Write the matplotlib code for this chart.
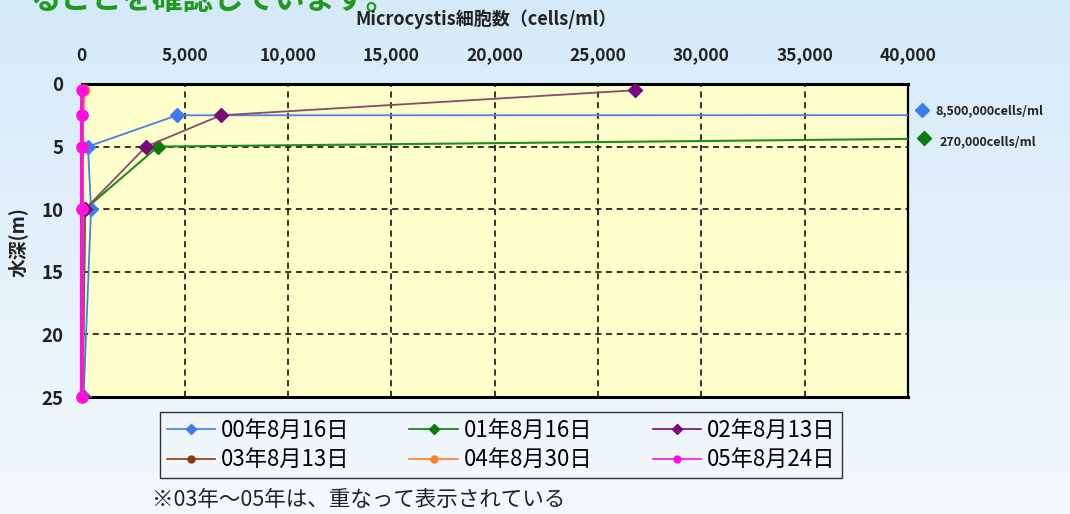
import numpy as np
import matplotlib
matplotlib.use("Agg")
import matplotlib.pyplot as plt
from matplotlib.lines import Line2D

plt.rcParams['font.family'] = ['Noto Sans CJK JP', 'DejaVu Sans']

# Microcystis cell counts (cells/ml) by water depth (m)
series_labels = ["00年8月16日", "01年8月16日", "02年8月13日",
                 "03年8月13日", "04年8月30日", "05年8月24日"]
depth_00 = [0.5, 2.5, 5, 10, 25]
cells_00 = [8500000, 4620, 310, 460, 100]
depth_01 = [0.5, 5, 10, 25]
cells_01 = [270000, 3700, 170, 60]
depth_02 = [0.5, 2.5, 5, 10, 25]
cells_02 = [26800, 6750, 3120, 170, 40]
depth_03 = [0.5, 2.5, 5, 10, 25]
cells_03 = [60, 30, 20, 20, 10]
depth_04 = [0.5, 2.5, 5, 10, 25]
cells_04 = [130, 40, 30, 20, 10]
depth_05 = [0.5, 2.5, 5, 10, 25]
cells_05 = [20, 10, 10, 10, 5]

x_ticks = [0, 5000, 10000, 15000, 20000, 25000, 30000, 35000, 40000]
y_ticks = [0, 5, 10, 15, 20, 25]

fig = plt.figure(figsize=(10.70, 5.14), dpi=100)

# soft blue page background
bg = fig.add_axes([0, 0, 1, 1], zorder=-10)
grad = np.linspace(0, 1, 256).reshape(-1, 1)
top_c = np.array([0.835, 0.918, 0.976])
bot_c = np.array([0.955, 0.975, 0.99])
img = top_c + (bot_c - top_c) * grad
bg.imshow(img[:, None, :].repeat(2, axis=1), aspect='auto', extent=[0, 1, 0, 1])
bg.set_axis_off()

# heading line running off the top edge
fig.text(0.028, 1 - 9 / 514, "ることを確認しています。", color='#1f9a1f', fontsize=22,
         fontweight='bold', va='baseline', ha='left')

ax = fig.add_axes([0.0762, 0.2276, 0.7724, 0.609])
ax.set_facecolor('#FFFFCC')
ax.set_xlim(0, 40000)
ax.set_ylim(25, 0)

styles = [
    (depth_00, cells_00, '#4A7FEA', '#3F7BF0', 'D', 7, 1.3),
    (depth_01, cells_01, '#1E8C1E', '#0A7A0A', 'D', 7, 1.5),
    (depth_02, cells_02, '#8A4A6A', '#7A0A7A', 'D', 7, 1.3),
    (depth_03, cells_03, '#8B3A0E', '#8B3A0E', 'o', 7.5, 2.4),
    (depth_04, cells_04, '#FF7F2A', '#FF7F2A', 'o', 7.5, 2.4),
    (depth_05, cells_05, '#FF10E0', '#FF10E0', 'o', 8, 2.6),
]
for i, (d, c, lc, mc, mk, ms, lw) in enumerate(styles):
    near_axis = mk == 'o'
    ax.plot(c, d, color=lc, lw=lw, marker=mk, ms=ms, mfc=mc, mec=mc,
            zorder=3 + i, clip_on=not near_axis)

ax.set_xticks(x_ticks)
ax.set_xticklabels([f"{v:,}" for v in x_ticks])
ax.set_yticks(y_ticks)
ax.xaxis.tick_top()
ax.tick_params(axis='x', length=0, pad=14, labelsize=12.5, colors='#222222')
ax.tick_params(axis='y', length=0, pad=13, labelsize=13.5, colors='#222222')
for lab in ax.get_yticklabels() + ax.get_xticklabels():
    lab.set_fontweight('bold')
ax.grid(True, color='black', linestyle=(0, (4, 3)), lw=1.1)
ax.set_axisbelow(True)
for side in ['top', 'bottom']:
    ax.spines[side].set_linewidth(2.2)
ax.spines['right'].set_linewidth(1.6)
ax.spines['left'].set_linewidth(1.2)

# off-scale values noted at the right edge
fig.add_artist(Line2D([922 / 1070], [1 - 110 / 514], marker='D', ms=7,
                      color='#3F7BF0', mec='#3F7BF0', transform=fig.transFigure))
fig.text(935 / 1070, 1 - 111 / 514, "8,500,000cells/ml", fontsize=9,
         fontweight='bold', va='center', color='#222222')
fig.add_artist(Line2D([924 / 1070], [1 - 138 / 514], marker='D', ms=7,
                      color='#0A7A0A', mec='#0A7A0A', transform=fig.transFigure))
fig.text(940 / 1070, 1 - 142 / 514, "270,000cells/ml", fontsize=9,
         fontweight='bold', va='center', color='#222222')

fig.text(486 / 1070, 1 - 19 / 514, "Microcystis細胞数（cells/ml）", fontsize=13,
         ha='center', va='center', color='#222222', fontweight='bold')
fig.text(18 / 1070, 1 - 242 / 514, "水深(m)", fontsize=13.5, rotation=90,
         ha='center', va='center', color='#222222', fontweight='bold')

# legend: three columns, two rows
handles = []
for (d, c, lc, mc, mk, ms, lw) in styles:
    handles.append(Line2D([], [], color=lc if mk == 'o' else mc, lw=1.2,
                          marker=mk, ms=5, mfc=mc, mec=mc))
order = [0, 3, 1, 4, 2, 5]
leg = fig.legend([handles[i] for i in order], [series_labels[i] for i in order],
                 ncol=3, loc='center', bbox_to_anchor=(501 / 1070, 1 - 445 / 514),
                 fontsize=16, frameon=True, fancybox=False, edgecolor='black',
                 facecolor='none', handlelength=2.2, handletextpad=0.25,
                 columnspacing=2.7, labelspacing=0.3, borderpad=0.3,
                 borderaxespad=0)
leg.get_frame().set_linewidth(1.0)

fig.text(152 / 1070, 1 - 500 / 514, "※03年～05年は、重なって表示されている",
         fontsize=15.5, ha='left', va='center', color='#222222')

fig.savefig("out.png", dpi=100)
